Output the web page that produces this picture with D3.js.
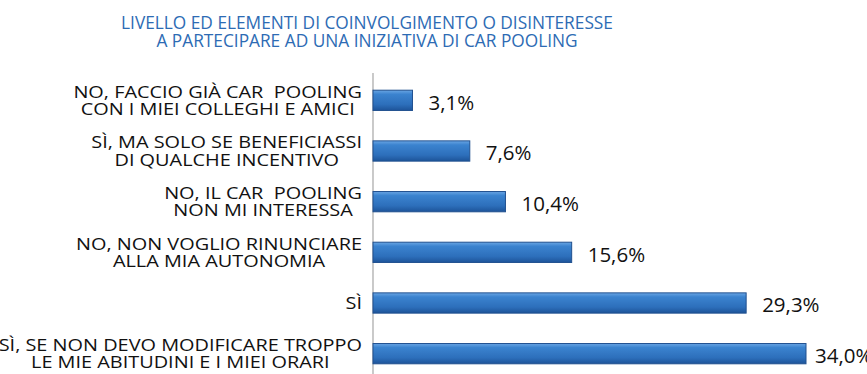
<!DOCTYPE html>
<html>
<head>
<meta charset="utf-8">
<script src="https://cdn.jsdelivr.net/npm/d3@7"></script>
<style>
  html, body { margin: 0; padding: 0; background: #fff; }
  svg { display: block; }
  text { font-family: "Open Sans", Lato, sans-serif; white-space: pre; }
</style>
</head>
<body>
<div id="chart"></div>
<script>
// Survey answers (each entry's lines are the wrapped category label)
const categories = [
  ["NO, FACCIO GIÀ CAR  POOLING", "CON I MIEI COLLEGHI E AMICI"],
  ["SÌ, MA SOLO SE BENEFICIASSI", "DI QUALCHE INCENTIVO"],
  ["NO, IL CAR  POOLING", "NON MI INTERESSA"],
  ["NO, NON VOGLIO RINUNCIARE", "ALLA MIA AUTONOMIA"],
  ["SÌ"],
  ["SÌ, SE NON DEVO MODIFICARE TROPPO", "LE MIE ABITUDINI E I MIEI ORARI"]
];
const values = [3.1, 7.6, 10.4, 15.6, 29.3, 34.0];
const valueLabels = ["3,1%", "7,6%", "10,4%", "15,6%", "29,3%", "34,0%"];
const titleLines = [
  "LIVELLO ED ELEMENTI DI COINVOLGIMENTO O DISINTERESSE",
  "A PARTECIPARE AD UNA INIZIATIVA DI CAR POOLING"
];

const W = 867, H = 374;
const margin = { left: 373, top: 75 };
const svg = d3.select("#chart").append("svg").attr("width", W).attr("height", H);

const defs = svg.append("defs");
const grad = defs.append("linearGradient").attr("id", "barGrad")
  .attr("x1", 0).attr("y1", 0).attr("x2", 0).attr("y2", 1);
grad.append("stop").attr("offset", "0%").attr("stop-color", "#6aa6e4");
grad.append("stop").attr("offset", "20%").attr("stop-color", "#3b83cf");
grad.append("stop").attr("offset", "70%").attr("stop-color", "#2d6fbb");
grad.append("stop").attr("offset", "100%").attr("stop-color", "#1d5499");

const x = d3.scaleLinear().domain([0, 34.0]).range([margin.left, 806]);
const y = d3.scaleBand().domain(d3.range(categories.length))
  .range([margin.top, 379]).paddingInner(0.6).paddingOuter(0.3);

// Title
svg.append("g").selectAll("text").data(titleLines).join("text")
  .attr("x", 367).attr("y", (d, i) => 29 + i * 18)
  .attr("text-anchor", "middle")
  .attr("fill", "#2d6bb4")
  .attr("font-size", 17.3)
  .text(d => d);

// Vertical category axis line
svg.append("g")
  .attr("transform", `translate(${margin.left},0)`)
  .call(d3.axisLeft(y).tickSize(0).tickSizeOuter(0).tickFormat(""))
  .call(g => g.select(".domain").attr("stroke", "#a6a6a6").attr("stroke-width", 1.2))
  .call(g => g.select(".domain").attr("d", `M0,${margin.top - 2}V${H + 5}`));

// Bars
svg.append("g").selectAll("rect").data(values).join("rect")
  .attr("x", x(0))
  .attr("y", (d, i) => y(i))
  .attr("width", d => x(d) - x(0))
  .attr("height", y.bandwidth())
  .attr("fill", "url(#barGrad)")
  .attr("stroke", "#20508f")
  .attr("stroke-width", 1);

// Value labels
svg.append("g").selectAll("text").data(values).join("text")
  .attr("x", d => Math.min(x(d) + 16, 815))
  .attr("y", (d, i) => y(i) + y.bandwidth() / 2 + 2)
  .attr("dy", "0.35em")
  .attr("font-size", 20.5)
  .attr("fill", "#111")
  .text((d, i) => valueLabels[i]);

// Category labels: lines centered within a block right-aligned to the axis,
// set in a slightly widened face
const labelRight = 362, lineH = 17.5, stretch = 1.17;
const groups = svg.append("g").selectAll("g").data(categories).join("g")
  .attr("transform", `translate(${labelRight},0) scale(${stretch},1)`);
groups.each(function (lines, i) {
  const g = d3.select(this);
  const cy = y(i) + y.bandwidth() / 2;
  const texts = g.selectAll("text").data(lines).join("text")
    .attr("font-size", 17)
    .attr("fill", "#111")
    .attr("dy", "0.35em")
    .attr("y", (d, j) => cy + (j - (lines.length - 1) / 2) * lineH)
    .text(d => d);
  let maxW = 0;
  texts.each(function () { maxW = Math.max(maxW, this.getComputedTextLength()); });
  texts.attr("text-anchor", "middle").attr("x", -maxW / 2);
});
</script>
</body>
</html>
